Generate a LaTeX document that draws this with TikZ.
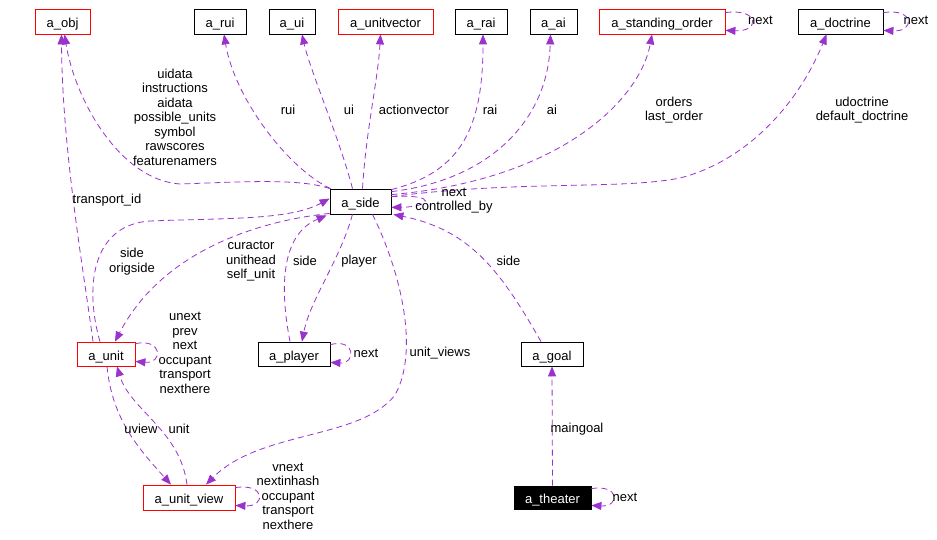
\documentclass[tikz,border=0pt]{standalone}
\usepackage{fontspec}
\setmainfont{Liberation Sans}
\usetikzlibrary{arrows.meta,calc}
\definecolor{edgec}{RGB}{154,50,205}
\begin{document}
\begin{tikzpicture}[x=1pt,y=-1pt,
  box/.style={draw=black, line width=0.8pt, rectangle, minimum height=25pt, inner sep=0pt, text height=12pt, text depth=0pt, font=\fontsize{13}{14.5}\selectfont},
  redbox/.style={box, draw=red},
  edge/.style={draw=edgec, line width=0.8pt, dash pattern=on 6pt off 4pt, -{Triangle[length=10pt,width=8pt]}},
  lbl/.style={font=\fontsize{13}{14.5}\selectfont, align=center, inner sep=0pt}]
\useasboundingbox (0,0) rectangle (937,540);
\fill[white] (0,0) rectangle (937,540);
% nodes
\node[redbox, minimum width=55pt] (obj) at (62.5,21.5) {a\_obj};
\node[box, minimum width=52pt] (rui) at (220,21.5) {a\_rui};
\node[box, minimum width=46pt] (ui) at (292,21.5) {a\_ui};
\node[redbox, minimum width=95pt] (uvec) at (385.5,21.5) {a\_unitvector};
\node[box, minimum width=52pt] (rai) at (481,21.5) {a\_rai};
\node[box, minimum width=47pt] (ai) at (553.5,21.5) {a\_ai};
\node[redbox, minimum width=126pt] (stand) at (662,21.5) {a\_standing\_order};
\node[box, minimum width=85pt] (doct) at (840.5,21.5) {a\_doctrine};
\node[box, minimum width=61pt] (side) at (360.5,201.5) {a\_side};
\node[redbox, minimum width=58pt, minimum height=24pt] (unit) at (106,354) {a\_unit};
\node[box, minimum width=72pt, minimum height=24pt] (player) at (294,354) {a\_player};
\node[box, minimum width=62pt, minimum height=24pt] (goal) at (552,354) {a\_goal};
\node[redbox, minimum width=92pt] (uview) at (189,497.5) {a\_unit\_view};
\node[box, fill=black, text=white, minimum width=77pt, minimum height=23pt] (theater) at (552.5,497.5) {a\_theater};
% edges to top row
\draw[edge] (side.north west) .. controls (300,178) and (240,182) .. (180,184) .. controls (120,180) and (75,100) .. ($(obj.south)+(2,0)$);
\draw[edge] ($(unit.north)+(-13,0)$) .. controls (85,280) and (62,150) .. ($(obj.south)+(-1,0)$);
\draw[edge] ($(side.north west)+(1,0)$) .. controls (290,170) and (235,100) .. ($(rui.south)+(4,0)$);
\draw[edge] ($(side.north)+(-8,0)$) .. controls (340,140) and (310,70) .. ($(ui.south)+(10,0)$);
\draw[edge] ($(side.north)+(2,0)$) .. controls (366,130) and (378,80) .. ($(uvec.south)+(-5,0)$);
\draw[edge] ($(side.north east)+(0,1)$) .. controls (460,172) and (483,130) .. ($(rai.south)+(2,0)$);
\draw[edge] ($(side.north east)+(0,3)$) .. controls (490,180) and (548,120) .. ($(ai.south)+(-3,0)$);
\draw[edge] ($(side.north east)+(0,6)$) .. controls (560,180) and (640,100) .. ($(stand.south)+(-10,0)$);
\draw[edge] ($(side.north east)+(0,8)$) .. controls (520,180) and (620,190) .. (680,178) .. controls (750,160) and (800,100) .. ($(doct.south)+(-14,0)$);
% self loops top
\draw[edge] ($(stand.north east)+(0,4)$) .. controls (760,8) and (760,32) .. ($(stand.south east)+(0,-4)$);
\draw[edge] ($(doct.north east)+(0,4)$) .. controls (915,8) and (915,32) .. ($(doct.south east)+(0,-4)$);
\node[lbl] (lnext1) at (760.5,20) {next};
\node[lbl] (lnext2) at (916,20) {next};
% labels top
\node[lbl] (lobj) at (175,117) {uidata\\instructions\\aidata\\possible\_units\\symbol\\rawscores\\featurenamers};
\node[lbl] (lrui) at (288,110) {rui};
\node[lbl] (lui) at (349,110) {ui};
\node[lbl] (luvec) at (414,110) {actionvector};
\node[lbl] (lrai) at (490,110) {rai};
\node[lbl] (lai) at (552,110) {ai};
\node[lbl] (lstand) at (674,110) {orders\\last\_order};
\node[lbl] (ldoct) at (862,110) {udoctrine\\default\_doctrine};
\node[lbl] (ltid) at (107,200) {transport\_id};
% a_side self loop
\draw[edge] ($(side.north east)+(0,8)$) .. controls (440,194) and (430,207) .. ($(side.south east)+(0,-7)$);
\node[lbl] (lside) at (454,200.5) {next\\controlled\_by};
% middle edges
\draw[edge] ($(unit.north)+(-6,0)$) .. controls (85,290) and (90,225) .. (150,221) .. controls (230,218) and (290,220) .. ($(side.west)+(0,-3)$);
\node[lbl] (lorig) at (132,261.5) {side\\origside};
\draw[edge] ($(side.south west)+(0,-1)$) .. controls (250,222) and (160,255) .. ($(unit.north)+(9,0)$);
\node[lbl] (lcur) at (251,261.5) {curactor\\unithead\\self\_unit};
\draw[edge] ($(player.north)+(-4,0)$) .. controls (280,290) and (280,235) .. ($(side.south west)+(-3,1)$);
\node[lbl] (lpside) at (305,261) {side};
\draw[edge] ($(side.south)+(-8,0)$) .. controls (340,260) and (310,300) .. ($(player.north)+(8,0)$);
\node[lbl] (lplayer) at (359,261) {player};
\draw[edge] ($(player.north east)+(0,3)$) .. controls (356,338) and (356,364) .. ($(player.south east)+(0,-4)$);
\node[lbl] (lpnext) at (366,353) {next};
\draw[edge] ($(side.south)+(12,0)$) .. controls (400,270) and (420,350) .. (395,395) .. controls (360,440) and (260,430) .. ($(uview.north)+(17,0)$);
\node[lbl] (luviews) at (440,353) {unit\_views};
\draw[edge] ($(goal.north)+(-11,0)$) .. controls (500,270) and (470,230) .. ($(side.south east)+(2,0)$);
\node[lbl] (lgside) at (508.5,261) {side};
% unit
\draw[edge] ($(unit.north east)+(0,2)$) .. controls (163,338) and (163,364) .. ($(unit.south east)+(0,-5)$);
\node[lbl] (lunit) at (185,353) {unext\\prev\\next\\occupant\\transport\\nexthere};
\draw[edge] ($(unit.south)+(1,0)$) .. controls (112,420) and (140,450) .. ($(uview.north)+(-18,0)$);
\node[lbl] (luview) at (141,429) {uview};
\draw[edge] ($(uview.north)+(-2,0)$) .. controls (180,430) and (130,410) .. ($(unit.south)+(11,0)$);
\node[lbl] (lunit2) at (179,429) {unit};
\draw[edge] ($(uview.north east)+(0,3)$) .. controls (266,483) and (266,507) .. ($(uview.south east)+(0,-5)$);
\node[lbl] (luvl) at (288,496) {vnext\\nextinhash\\occupant\\transport\\nexthere};
% theater
\draw[edge] (theater.north) -- (goal.south);
\node[lbl] (lmain) at (577,429) {maingoal};
\draw[edge] ($(theater.north east)+(0,3)$) .. controls (620,484) and (620,507) .. ($(theater.south east)+(0,-4)$);
\node[lbl] (ltnext) at (625,497) {next};
\end{tikzpicture}
\end{document}
